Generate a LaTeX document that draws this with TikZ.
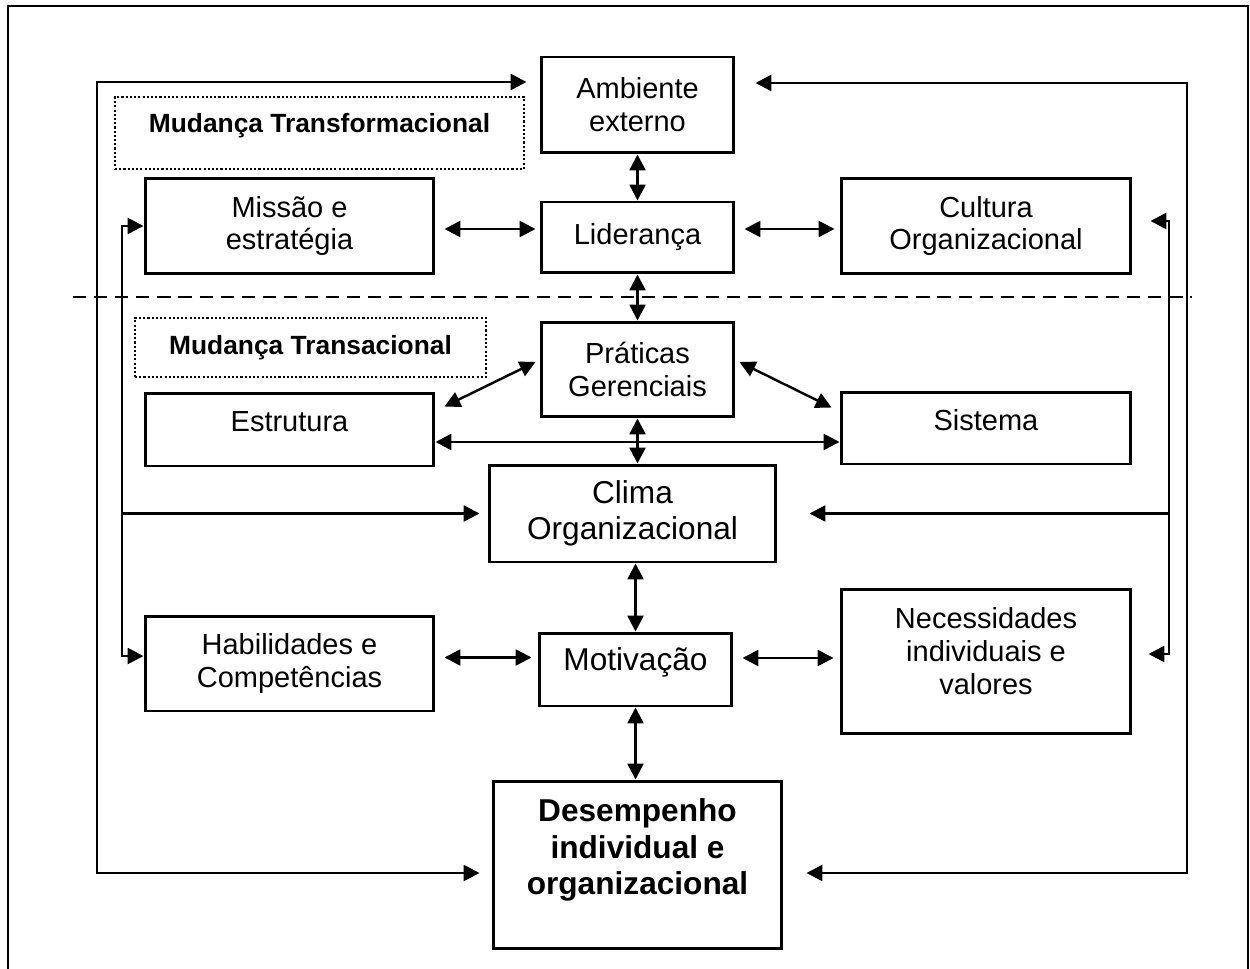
\documentclass[tikz,border=0pt]{standalone}
\usepackage{fontspec}
\setmainfont{Liberation Sans}
\usetikzlibrary{arrows.meta}

\begin{document}
\begin{tikzpicture}[x=0.02cm, y=-0.02cm, >={Triangle[length=9pt,width=9pt]},
  box/.style={draw, line width=1.7pt, align=center, inner sep=1pt, font=\fontsize{16.5}{18.7}\selectfont},
  big/.style={font=\fontsize{18}{20.8}\selectfont},
  strong/.style={font=\fontsize{18}{20.8}\selectfont\bfseries},
  tag/.style={draw, line width=1.2pt, dash pattern=on 1.2pt off 1.2pt, inner sep=1pt, font=\fontsize{15}{18}\selectfont\bfseries},
  link/.style={line width=1.4pt}]
  \useasboundingbox (0,0) rectangle (1250,969);
  \draw[line width=1.5pt] (8,990) -- (8,6) -- (1248,6) -- (1248,990);

  % upper part
  \node[box, minimum width=3.86cm, minimum height=1.92cm] (amb) at (637.5,105) {Ambiente\\externo};
  \node[box, minimum width=3.86cm, minimum height=1.42cm] (lid) at (637.5,237.5) {Liderança};
  \node[box, minimum width=5.78cm, minimum height=1.92cm] (mis) at (289.5,226) {Missão e\\estratégia};
  \node[box, minimum width=5.80cm, minimum height=1.92cm] (cul) at (986,226) {Cultura\\Organizacional};
  \node[tag, minimum width=8.18cm, minimum height=1.44cm, text depth=11pt] (trf) at (319.5,133) {Mudança Transformacional};

  \draw[line width=1.3pt, dash pattern=on 7.5pt off 4.5pt] (73,297) -- (1192,297);

  % lower part
  \node[tag, minimum width=7.02cm, minimum height=1.18cm] (trs) at (310.5,347.5) {Mudança Transacional};
  \node[box, minimum width=3.86cm, minimum height=1.90cm] (pra) at (637.5,369.5) {Práticas\\Gerenciais};
  \node[box, minimum width=5.78cm, minimum height=1.46cm, text depth=9pt] (est) at (289.5,429.5) {Estrutura};
  \node[box, minimum width=5.80cm, minimum height=1.44cm, text depth=9pt] (sis) at (986,428) {Sistema};
  \node[box, big, minimum width=5.74cm, minimum height=1.94cm] (cli) at (632.5,513.5) {Clima\\Organizacional};
  \node[box, minimum width=5.78cm, minimum height=1.90cm] (hab) at (289.5,663.5) {Habilidades e\\Competências};
  \node[box, big, minimum width=3.86cm, minimum height=1.46cm, text depth=11.5pt] (mot) at (635.5,669.5) {Motivação};
  \node[box, minimum width=5.80cm, minimum height=2.90cm] (nec) at (986,661.5) {Necessidades\\individuais e\\valores\\[-7pt]\mbox{}};
  \node[box, strong, minimum width=5.78cm, minimum height=3.36cm] (des) at (637.5,865) {Desempenho\\individual e\\organizacional\\\mbox{}};

  % feedback loops
  \coordinate (lt) at (97,82);
  \coordinate (lb) at (97,873);
  \coordinate (rt) at (1187,83);
  \coordinate (rb) at (1187,873);
  \coordinate (ilt) at (122,226);
  \coordinate (ilb) at (122,656);
  \coordinate (irt) at (1169,221);
  \coordinate (irb) at (1169,654);

  \draw[link,<->] ([shift={(-13,0)}]amb.west |- lt) -- (lt) -- (lb) -- ([shift={(-12,0)}]des.west |- lb);
  \draw[link,<->] ([shift={(20,0)}]amb.east |- rt) -- (rt) -- (rb) -- ([shift={(23,0)}]des.east |- rb);
  \draw[link,<->] (mis.west) -- (ilt) -- (ilb) -- (hab.west |- ilb);
  \draw[link,->] (ilt |- cli.west) -- ([shift={(-8,0)}]cli.west);
  \draw[link,<->] ([shift={(18,0)}]cul.east |- irt) -- (irt) -- (irb) -- ([shift={(16,0)}]nec.east |- irb);
  \draw[link,->] (irt |- cli.east) -- ([shift={(32,0)}]cli.east);

  % vertical links
  \draw[link,<->] (amb.south) -- (lid.north);
  \draw[link,<->] (lid.south) -- (pra.north);
  \draw[link,<->] (pra.south) -- (pra.south |- cli.north);
  \draw[link,<->] (mot.north |- cli.south) -- (mot.north);
  \draw[link,<->] (mot.south) -- (mot.south |- des.north);

  % horizontal and diagonal links
  \draw[link,<->] ([shift={(9,3)}]mis.east) -- ([shift={(-4,3)}]mis.east -| lid.west);
  \draw[link,<->] ([shift={(9,3)}]lid.east |- cul.west) -- ([shift={(-5,3)}]cul.west);
  \draw[link,<->] ([shift={(-4,-7.5)}]pra.west) -- ([shift={(9,15)}]est.north east);
  \draw[link,<->] ([shift={(4,-7.5)}]pra.east) -- ([shift={(-8,17)}]sis.north west);
  \draw[link,<->] ([shift={(0,12.5)}]est.east) -- ([shift={(0,12.5)}]est.east -| sis.west);
  \draw[link,<->] ([shift={(9,-6)}]hab.east) -- ([shift={(-6,-6)}]hab.east -| mot.west);
  \draw[link,<->] ([shift={(9,-11.5)}]mot.east) -- ([shift={(-6,-11.5)}]mot.east -| nec.west);
\end{tikzpicture}
\end{document}
